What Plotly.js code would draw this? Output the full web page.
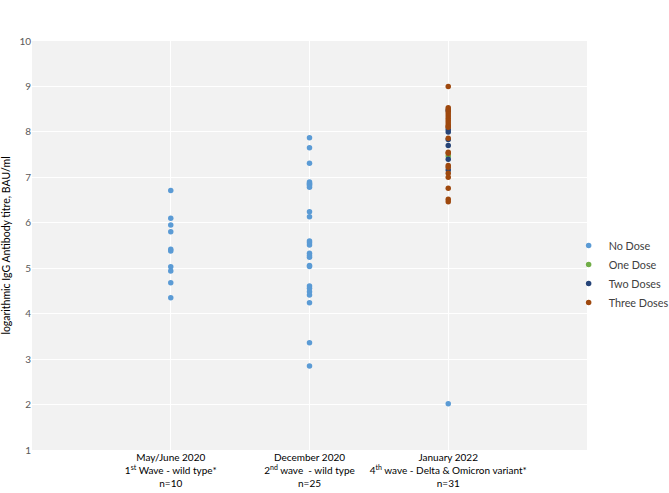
<!DOCTYPE html>
<html>
<head>
<meta charset="utf-8">
<script src="https://cdn.plot.ly/plotly-3.0.1.min.js"></script>
<style>html,body{margin:0;padding:0;background:#fff;}#chart{width:669px;height:493px;}</style>
</head>
<body>
<div id="chart"></div>
<script>
var categoryLabels = [
  "May/June 2020<br>1<sup>st</sup> Wave - wild type*<br>n=10",
  "December 2020<br>2<sup>nd</sup> wave  - wild type<br>n=25",
  "January 2022<br>4<sup>th</sup> wave - Delta &amp; Omicron variant*<br>n=31"
];
var seriesNames = ["No Dose", "One Dose", "Two Doses", "Three Doses"];

var wave1NoDose = [6.71, 6.10, 5.95, 5.80, 5.42, 5.38, 5.03, 4.94, 4.68, 4.35];
var wave2NoDose = [7.87, 7.65, 7.31, 6.90, 6.87, 6.85, 6.82, 6.78, 6.24, 6.13, 5.60, 5.56, 5.51,
                   5.33, 5.28, 5.24, 5.06, 5.04, 4.61, 4.56, 4.48, 4.41, 4.24, 3.36, 2.85];
var wave3NoDose = [2.02];
var wave3OneDose = [7.47];
var wave3TwoDoses = [8.47, 8.05, 8.00, 7.83, 7.70, 7.40, 7.16];
var wave3ThreeDoses = [9.00, 8.53, 8.50, 8.45, 8.40, 8.35, 8.30, 8.25, 8.20, 8.15, 8.12, 8.10,
                       7.86, 7.55, 7.53, 7.26, 7.22, 7.09, 7.00, 6.76, 6.52, 6.46];

var colors = ["#5B9BD5", "#70AD47", "#264478", "#9E480E"];

function rep(v, n) { var a = []; for (var i = 0; i < n; i++) a.push(v); return a; }

var noDoseY = wave1NoDose.concat(wave2NoDose, wave3NoDose);
var noDoseX = rep(1, wave1NoDose.length).concat(rep(2, wave2NoDose.length), rep(3, wave3NoDose.length));

var traces = [
  {x: noDoseX, y: noDoseY, name: seriesNames[0]},
  {x: rep(3, wave3OneDose.length), y: wave3OneDose, name: seriesNames[1]},
  {x: rep(3, wave3TwoDoses.length), y: wave3TwoDoses, name: seriesNames[2]},
  {x: rep(3, wave3ThreeDoses.length), y: wave3ThreeDoses, name: seriesNames[3]}
].map(function (t, i) {
  t.type = "scatter";
  t.mode = "markers";
  t.marker = {color: colors[i], size: 5.5};
  t.hoverinfo = "y+name";
  return t;
});

var layout = {
  width: 669, height: 493,
  margin: {l: 32, r: 82, t: 41, b: 43, autoexpand: false},
  paper_bgcolor: "#ffffff",
  plot_bgcolor: "#F2F2F2",
  font: {family: "Lato, 'Open Sans', sans-serif", size: 10, color: "#595959"},
  showlegend: true,
  legend: {
    xref: "container", yref: "container",
    x: 0.85, xanchor: "left", y: 0.444, yanchor: "middle",
    font: {size: 10.8, color: "#404040"},
    bgcolor: "rgba(0,0,0,0)",
    itemwidth: 30,
    itemsizing: "trace",
    tracegroupgap: 6.5
  },
  xaxis: {
    range: [0, 4],
    tickmode: "array",
    tickvals: [1, 2, 3],
    ticktext: categoryLabels,
    showgrid: true, gridcolor: "#ffffff", gridwidth: 1,
    zeroline: false, showline: false, ticks: "",
    tickfont: {size: 10, color: "#000000"},
    fixedrange: true
  },
  yaxis: {
    range: [1, 10],
    dtick: 1, tick0: 0,
    showgrid: true, gridcolor: "#ffffff", gridwidth: 1,
    zeroline: false, showline: false, ticks: "",
    tickfont: {size: 10, color: "#595959"},
    title: {text: "logarithmic IgG Antibody titre, BAU/ml", font: {size: 10.5, color: "#000000"}, standoff: 6},
    automargin: false,
    fixedrange: true
  }
};

Plotly.newPlot("chart", traces, layout, {displayModeBar: false, staticPlot: true});
</script>
</body>
</html>
